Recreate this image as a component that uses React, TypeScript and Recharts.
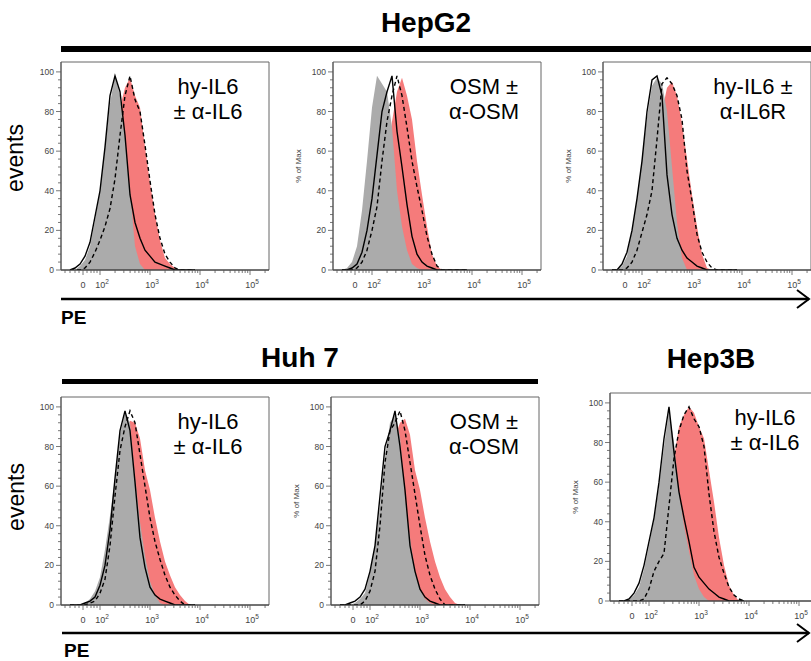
import React from 'react';
import { ComposedChart, Area, Line, XAxis, YAxis, ReferenceArea } from 'recharts';

// PE channel position in decades (biexponential display), 10^2 -> 2, etc.
const bins = [1.4, 1.5, 1.6, 1.7, 1.8, 1.9, 2.0, 2.1, 2.2, 2.3, 2.4, 2.5, 2.6, 2.7, 2.8, 2.9, 3.0, 3.1, 3.2, 3.3, 3.4, 3.5, 3.6, 3.7, 3.8, 3.9];

// HepG2, hy-IL6 +/- a-IL6
const hepg2Il6Gray = [0, 0, 2, 5, 12, 25, 40, 62, 84, 98, 88, 66, 40, 12, 3, 0, 0, 0, 0, 0, 0, 0, 0, 0, 0, 0];
const hepg2Il6Red = [0, 0, 0, 0, 3, 8, 16, 26, 40, 62, 82, 92, 97, 88, 82, 62, 44, 28, 15, 6, 3, 1, 0, 0, 0, 0];
const hepg2Il6Solid = [0, 1, 3, 7, 14, 27, 40, 62, 88, 98, 90, 68, 38, 24, 16, 10, 7, 4, 3, 2, 1, 0, 0, 0, 0, 0];
const hepg2Il6Dashed = [0, 0, 0, 1, 4, 9, 15, 22, 31, 46, 68, 88, 98, 86, 80, 63, 45, 28, 16, 8, 4, 1, 0, 0, 0, 0];

// HepG2, OSM +/- a-OSM
const hepg2OsmGray = [0, 1, 4, 12, 30, 55, 82, 98, 94, 90, 72, 40, 22, 10, 3, 1, 0, 0, 0, 0, 0, 0, 0, 0, 0, 0];
const hepg2OsmRed = [0, 0, 0, 0, 2, 5, 12, 22, 35, 55, 75, 90, 97, 88, 76, 55, 38, 22, 8, 2, 0, 0, 0, 0, 0, 0];
const hepg2OsmSolid = [0, 0, 1, 3, 9, 20, 36, 58, 80, 90, 98, 70, 52, 33, 17, 8, 4, 2, 1, 0, 0, 0, 0, 0, 0, 0];
const hepg2OsmDashed = [0, 0, 0, 1, 4, 10, 20, 32, 55, 75, 88, 98, 88, 72, 55, 42, 30, 17, 8, 2, 0, 0, 0, 0, 0, 0];

// HepG2, hy-IL6 +/- a-IL6R
const hepg2Il6rGray = [0, 0, 2, 7, 20, 36, 56, 77, 93, 97, 94, 80, 52, 24, 6, 0, 0, 0, 0, 0, 0, 0, 0, 0, 0, 0];
const hepg2Il6rRed = [0, 0, 0, 0, 0, 4, 10, 20, 35, 58, 80, 92, 95, 88, 74, 56, 38, 22, 8, 1, 0, 0, 0, 0, 0, 0];
const hepg2Il6rSolid = [0, 0, 3, 9, 20, 36, 55, 80, 96, 98, 88, 48, 28, 16, 10, 6, 4, 2, 1, 0, 0, 0, 0, 0, 0, 0];
const hepg2Il6rDashed = [0, 0, 0, 1, 4, 10, 19, 28, 40, 66, 94, 97, 94, 88, 76, 50, 35, 18, 9, 4, 1, 0, 0, 0, 0, 0];

// Huh 7, hy-IL6 +/- a-IL6
const huh7Il6Gray = [0, 0, 0, 1, 3, 7, 14, 28, 45, 64, 86, 97, 92, 65, 42, 25, 12, 5, 1, 0, 0, 0, 0, 0, 0, 0];
const huh7Il6Red = [0, 0, 0, 0, 0, 2, 6, 14, 28, 45, 65, 85, 93, 92, 84, 68, 58, 44, 32, 22, 15, 9, 5, 2, 0, 0];
const huh7Il6Solid = [0, 0, 0, 1, 2, 4, 10, 20, 38, 64, 88, 98, 88, 62, 34, 19, 9, 5, 3, 2, 1, 0, 0, 0, 0, 0];
const huh7Il6Dashed = [0, 0, 0, 0, 1, 2, 6, 13, 30, 55, 78, 90, 98, 92, 76, 60, 44, 32, 23, 15, 9, 5, 2, 0, 0, 0];

// Huh 7, OSM +/- a-OSM
const huh7OsmGray = [0, 0, 0, 1, 3, 6, 16, 30, 50, 75, 92, 96, 85, 55, 34, 17, 8, 3, 1, 0, 0, 0, 0, 0, 0, 0];
const huh7OsmRed = [0, 0, 0, 0, 0, 0, 4, 10, 22, 42, 65, 85, 92, 94, 86, 68, 58, 44, 32, 22, 14, 8, 4, 1, 0, 0];
const huh7OsmSolid = [0, 0, 1, 2, 4, 8, 17, 30, 55, 80, 88, 98, 80, 58, 30, 17, 8, 4, 2, 1, 0, 0, 0, 0, 0, 0];
const huh7OsmDashed = [0, 0, 0, 0, 0, 2, 7, 17, 40, 72, 88, 92, 98, 88, 72, 56, 40, 25, 15, 8, 3, 0, 0, 0, 0, 0];

// Hep3B, hy-IL6 +/- a-IL6
const hep3bIl6Gray = [0, 0, 1, 3, 7, 16, 28, 41, 58, 78, 96, 80, 55, 38, 25, 13, 6, 2, 0, 0, 0, 0, 0, 0, 0, 0];
const hep3bIl6Red = [0, 0, 0, 0, 0, 0, 0, 3, 8, 18, 40, 72, 88, 94, 98, 95, 88, 82, 66, 50, 32, 18, 8, 3, 0, 0];
const hep3bIl6Solid = [0, 0, 1, 4, 9, 18, 30, 42, 60, 82, 98, 75, 55, 42, 30, 17, 12, 9, 6, 4, 2, 1, 0, 0, 0, 0];
const hep3bIl6Dashed = [0, 0, 0, 0, 0, 1, 6, 15, 20, 24, 48, 72, 86, 94, 98, 92, 88, 78, 54, 35, 22, 14, 7, 3, 1, 0];

const xMajor = [
  { u: 1.66, base: '0', exp: '' },
  { u: 2, base: '10', exp: '2' },
  { u: 3, base: '10', exp: '3' },
  { u: 4, base: '10', exp: '4' },
  { u: 5, base: '10', exp: '5' },
];
const nearZeroMinor = [1.3, 1.4, 1.5, 1.58, 1.74, 1.82, 1.88, 1.94];
const logMinor: number[] = [];
[2, 3, 4].forEach((d) => {
  for (let m = 2; m <= 9; m++) logMinor.push(d + Math.log10(m));
});
logMinor.push(5 + Math.log10(2));
const xTicks = [...xMajor.map((t) => t.u), ...nearZeroMinor, ...logMinor].sort((a, b) => a - b);
const yTicks = Array.from({ length: 26 }, (_, i) => i * 4);

const FONT = '"Liberation Sans", Arial, Helvetica, sans-serif';
const RED = '#f57b7b';
const GRAY = '#ababab';
const BOX = 208;

const YTick = (props: any) => {
  const { x, y, payload } = props;
  const major = payload.value % 20 === 0;
  return (
    <g>
      <line x1={x - (major ? 5 : 3)} x2={x} y1={y} y2={y} stroke="#555" strokeWidth={0.8} />
      {major && (
        <text x={x - 7} y={y} dy={3} textAnchor="end" fontSize={8.5} fill="#444" fontFamily={FONT}>
          {payload.value}
        </text>
      )}
    </g>
  );
};

const XTick = (props: any) => {
  const { x, y, payload } = props;
  const lab = xMajor.find((t) => Math.abs(t.u - payload.value) < 1e-6);
  return (
    <g>
      <line x1={x} x2={x} y1={y} y2={y + (lab ? 5 : 3)} stroke="#555" strokeWidth={0.8} />
      {lab && (
        <text x={x + (lab.exp ? 2 : 0)} y={y + 18} textAnchor="middle" fontSize={9} fill="#444" fontFamily={FONT}>
          <tspan>{lab.base}</tspan>
          {lab.exp && (
            <tspan dy={-4} fontSize={6.5}>
              {lab.exp}
            </tspan>
          )}
        </text>
      )}
    </g>
  );
};

interface PanelProps {
  left: number;
  top: number;
  gray: number[];
  red: number[];
  solid: number[];
  dashed: number[];
}

const Histogram: React.FC<PanelProps> = ({ left, top, gray, red, solid, dashed }) => {
  const data = bins.map((u, i) => ({ u, gray: gray[i], red: red[i], solid: solid[i], dashed: dashed[i] }));
  return (
    <div style={{ position: 'absolute', left: left - 45, top: top - 10 }}>
      <ComposedChart width={45 + BOX + 2} height={10 + BOX + 28} data={data} margin={{ top: 10, right: 2, bottom: 0, left: 0 }}>
        <XAxis
          dataKey="u"
          type="number"
          domain={[1.22, 5.38]}
          allowDataOverflow
          ticks={xTicks}
          interval={0}
          tick={<XTick />}
          tickSize={0}
          tickMargin={0}
          height={28}
          axisLine={{ stroke: '#333' }}
        />
        <YAxis
          type="number"
          domain={[0, 105]}
          allowDataOverflow
          ticks={yTicks}
          interval={0}
          tick={<YTick />}
          tickSize={0}
          tickMargin={0}
          width={45}
          axisLine={{ stroke: '#555' }}
        />
        <Area type="linear" dataKey="red" stroke="none" fill={RED} fillOpacity={1} isAnimationActive={false} />
        <Area type="linear" dataKey="gray" stroke="none" fill={GRAY} fillOpacity={1} isAnimationActive={false} />
        <Line type="linear" dataKey="solid" stroke="#000" strokeWidth={1.4} dot={false} isAnimationActive={false} />
        <Line type="linear" dataKey="dashed" stroke="#000" strokeWidth={1.4} strokeDasharray="4 3" dot={false} isAnimationActive={false} />
        <ReferenceArea x1={1.22} x2={5.38} y1={0} y2={105} fill="none" stroke="#666" strokeWidth={1} />
      </ComposedChart>
    </div>
  );
};

const panels = [
  { left: 61, top: 62, gray: hepg2Il6Gray, red: hepg2Il6Red, solid: hepg2Il6Solid, dashed: hepg2Il6Dashed, lines: ['hy-IL6', '± α-IL6'], dx: 147, pct: false },
  { left: 333, top: 62, gray: hepg2OsmGray, red: hepg2OsmRed, solid: hepg2OsmSolid, dashed: hepg2OsmDashed, lines: ['OSM ±', 'α-OSM'], dx: 151, pct: true },
  { left: 603, top: 62, gray: hepg2Il6rGray, red: hepg2Il6rRed, solid: hepg2Il6rSolid, dashed: hepg2Il6rDashed, lines: ['hy-IL6 ±', 'α-IL6R'], dx: 150, pct: true },
  { left: 61, top: 397, gray: huh7Il6Gray, red: huh7Il6Red, solid: huh7Il6Solid, dashed: huh7Il6Dashed, lines: ['hy-IL6', '± α-IL6'], dx: 147, pct: false },
  { left: 331, top: 397, gray: huh7OsmGray, red: huh7OsmRed, solid: huh7OsmSolid, dashed: huh7OsmDashed, lines: ['OSM ±', 'α-OSM'], dx: 153, pct: true },
  { left: 610, top: 393, gray: hep3bIl6Gray, red: hep3bIl6Red, solid: hep3bIl6Solid, dashed: hep3bIl6Dashed, lines: ['hy-IL6', '± α-IL6'], dx: 155, pct: true },
];

const Arrow = ({ x1, x2, y }: { x1: number; x2: number; y: number }) => (
  <g>
    <line x1={x1} x2={x2} y1={y} y2={y} stroke="#000" strokeWidth={2.5} />
    <polyline points={`${x2 - 12},${y - 9} ${x2},${y} ${x2 - 12},${y + 9}`} fill="none" stroke="#000" strokeWidth={2} />
  </g>
);

export default function App() {
  return (
    <div style={{ position: 'absolute', left: 0, top: 0, width: 811, height: 661, overflow: 'hidden', background: '#fff', fontFamily: FONT }}>
      {panels.map((p, i) => (
        <Histogram key={i} left={p.left} top={p.top} gray={p.gray} red={p.red} solid={p.solid} dashed={p.dashed} />
      ))}
      <svg width={811} height={661} style={{ position: 'absolute', left: 0, top: 0, pointerEvents: 'none' }} fontFamily={FONT}>
        <text x={426} y={32} textAnchor="middle" fontSize={28} fontWeight="bold">HepG2</text>
        <rect x={61} y={46} width={750} height={6} fill="#000" />
        <text x={300} y={367} textAnchor="middle" fontSize={28} fontWeight="bold">Huh 7</text>
        <rect x={62} y={379} width={476} height={5} fill="#000" />
        <text x={711} y={368} textAnchor="middle" fontSize={28} fontWeight="bold">Hep3B</text>

        <Arrow x1={61} x2={809} y={299} />
        <text x={61} y={324} fontSize={19} fontWeight="bold">PE</text>
        <Arrow x1={62} x2={809} y={633} />
        <text x={64} y={657} fontSize={19} fontWeight="bold">PE</text>

        <text x={23} y={158} transform="rotate(-90 23 158)" textAnchor="middle" fontSize={23}>events</text>
        <text x={24} y={497} transform="rotate(-90 24 497)" textAnchor="middle" fontSize={23}>events</text>

        {panels.map((p, i) => (
          <g key={i}>
            <text x={p.left + p.dx} y={p.top + 32} textAnchor="middle" fontSize={22}>{p.lines[0]}</text>
            <text x={p.left + p.dx} y={p.top + 57} textAnchor="middle" fontSize={22}>{p.lines[1]}</text>
            {p.pct && (
              <text
                x={p.left - 32}
                y={p.top + BOX / 2}
                transform={`rotate(-90 ${p.left - 32} ${p.top + BOX / 2})`}
                textAnchor="middle"
                fontSize={8}
                fill="#444"
              >
                % of Max
              </text>
            )}
          </g>
        ))}
      </svg>
    </div>
  );
}
